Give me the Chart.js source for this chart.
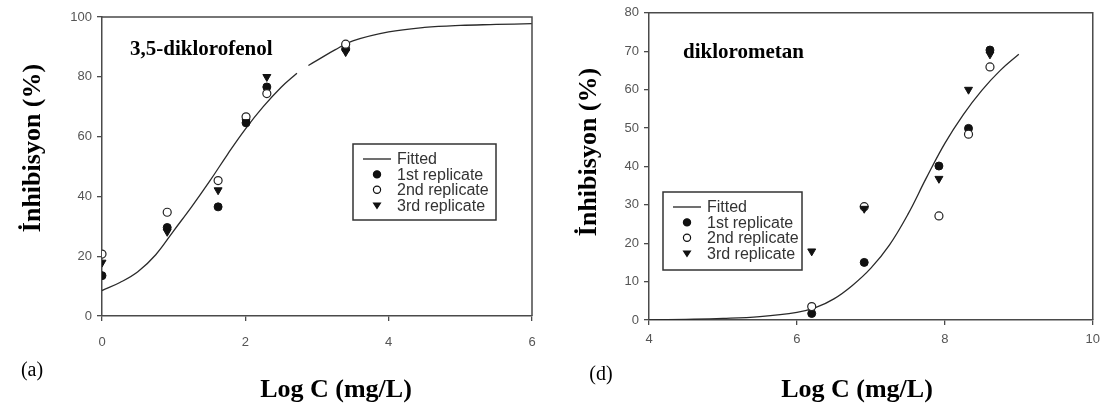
<!DOCTYPE html>
<html>
<head>
<meta charset="utf-8">
<script src="https://cdn.jsdelivr.net/npm/chart.js@4.4.1/dist/chart.umd.min.js"></script>
<style>
    body { margin: 0; background: #fff; }
    #wrap { position: relative; width: 1107px; height: 406px; overflow: hidden; }
    canvas { position: absolute; top: 0; }
    #chartA { left: 0; }
    #chartD { left: 555px; }
</style>
</head>
<body>
<div id="wrap">
    <canvas id="chartA" width="552" height="406"></canvas>
    <canvas id="chartD" width="552" height="406"></canvas>
</div>
<script>
//----------------------------- Data (a) 3,5-diklorofenol -----------------------------------
const logC_a = [0, 0.91, 1.62, 2.01, 2.30, 3.40];
const rep1_a = [13.5, 29.6, 36.5, 64.6, 76.6, 89.4];
const rep2_a = [20.7, 34.7, 45.3, 66.6, 74.4, 90.9];
const rep3_a = [17.9, 28.2, 42.1, 64.9, 80.0, 88.3];
// fitted curve (null = the small break in the line)
const fitX_a = [0, 0.25, 0.5, 0.75, 1, 1.25, 1.5, 1.75, 2, 2.25, 2.5, 2.72, 2.8, 2.88, 3, 3.25, 3.5, 4, 4.5, 5, 5.5, 6];
const fitY_a = [8.5, 11.2, 14.8, 20.5, 28.5, 36.5, 45, 54, 62.5, 70, 76.5, 81.2, null, 83.8, 85.5, 89, 92, 95, 96.5, 97.2, 97.5, 97.8];
const xTicks_a = [0, 2, 4, 6];
const yTicks_a = [0, 20, 40, 60, 80, 100];

//----------------------------- Data (d) diklorometan -----------------------------------
const logC_d = [6.20, 6.91, 7.92, 8.32, 8.61];
const rep1_d = [1.7, 15.0, 40.1, 49.9, 70.3];
const rep2_d = [3.5, 29.5, 27.1, 48.4, 65.9];
const rep3_d = [17.9, 29.0, 36.8, 60.0, 69.2];
const fitX_d = [4, 4.5, 5, 5.5, 6, 6.25, 6.5, 6.75, 7, 7.25, 7.5, 7.75, 8, 8.25, 8.5, 8.75, 9];
const fitY_d = [0, 0.15, 0.4, 0.9, 2.0, 3.2, 5.5, 9, 13.5, 19.5, 27.5, 37, 46, 53.5, 59.8, 65, 69.2];
const xTicks_d = [4, 6, 8, 10];
const yTicks_d = [0, 10, 20, 30, 40, 50, 60, 70, 80];

const legendLabels = ['Fitted', '1st replicate', '2nd replicate', '3rd replicate'];
const axisColor = '#4a4a4a';
const tickColor = '#555';

//----------------------------- Helpers -----------------------------------
function toPoints(xs, ys) {
    return xs.map((x, i) => ({ x: x, y: ys[i] }));
}

function drawMarker(ctx, kind, x, y, r) {
    ctx.save();
    ctx.lineWidth = 1.2;
    ctx.strokeStyle = '#111';
    ctx.fillStyle = kind === 'open' ? '#fff' : '#111';
    ctx.beginPath();
    if (kind === 'tri') {
        ctx.moveTo(x - r * 0.95, y - r * 0.6);
        ctx.lineTo(x + r * 0.95, y - r * 0.6);
        ctx.lineTo(x, y + r * 0.9);
        ctx.closePath();
    } else {
        ctx.arc(x, y, r, 0, Math.PI * 2);
    }
    ctx.fill();
    ctx.stroke();
    ctx.restore();
}

// frame, texts and legend box of each panel
const panelPlugin = {
    id: 'panel',
    afterDraw(chart, args, opts) {
        const ctx = chart.ctx;
        const a = chart.chartArea;
        ctx.save();
        ctx.strokeStyle = axisColor;
        ctx.lineWidth = 1.5;
        ctx.beginPath();
        ctx.moveTo(a.left, a.top);
        ctx.lineTo(a.right, a.top);
        ctx.lineTo(a.right, a.bottom);
        ctx.stroke();

        ctx.fillStyle = '#000';
        ctx.font = 'bold 21px "Liberation Serif"';
        ctx.textAlign = 'left';
        ctx.textBaseline = 'alphabetic';
        ctx.fillText(opts.name, opts.nameX, opts.nameY);

        ctx.font = '20px "Liberation Serif"';
        ctx.textAlign = 'center';
        ctx.fillText(opts.letter, opts.letterX, opts.letterY);

        ctx.font = 'bold 26px "Liberation Serif"';
        ctx.fillText('Log C (mg/L)', opts.xTitleX, 397);

        ctx.save();
        ctx.translate(opts.yTitleX, opts.yTitleY);
        ctx.rotate(-Math.PI / 2);
        ctx.fillText('İnhibisyon (%)', 0, 0);
        ctx.restore();

        // legend
        const b = opts.legend;
        ctx.strokeStyle = '#333';
        ctx.lineWidth = 1.5;
        ctx.strokeRect(b.x, b.y, b.w, b.h);
        ctx.font = '16px "Liberation Sans"';
        ctx.textAlign = 'left';
        ctx.textBaseline = 'middle';
        legendLabels.forEach((label, i) => {
            const ry = b.y + 15 + i * 15.4;
            if (i === 0) {
                ctx.strokeStyle = '#222';
                ctx.lineWidth = 1.3;
                ctx.beginPath();
                ctx.moveTo(b.x + 10, ry);
                ctx.lineTo(b.x + 38, ry);
                ctx.stroke();
            } else {
                drawMarker(ctx, ['dot', 'open', 'tri'][i - 1], b.x + 24, ry, 3.6);
            }
            ctx.fillStyle = '#333';
            ctx.fillText(label, b.x + 44, ry + 1);
        });
        ctx.restore();
    }
};

function makeConfig(d) {
    return {
        type: 'scatter',
        data: {
            datasets: [
                {
                    label: 'Fitted',
                    data: toPoints(d.fitX, d.fitY),
                    showLine: true,
                    spanGaps: false,
                    borderColor: '#2a2a2a',
                    borderWidth: 1.3,
                    pointRadius: 0,
                    tension: 0.4,
                    order: 4
                },
                {
                    label: '1st replicate',
                    data: toPoints(d.logC, d.rep1),
                    pointStyle: 'circle',
                    pointRadius: 4,
                    backgroundColor: '#111',
                    borderColor: '#111',
                    borderWidth: 1,
                    order: 3
                },
                {
                    label: '2nd replicate',
                    data: toPoints(d.logC, d.rep2),
                    pointStyle: 'circle',
                    pointRadius: 4,
                    backgroundColor: '#fff',
                    borderColor: '#222',
                    borderWidth: 1.2,
                    order: 2
                },
                {
                    label: '3rd replicate',
                    data: toPoints(d.logC, d.rep3),
                    pointStyle: 'triangle',
                    rotation: 180,
                    pointRadius: 4.6,
                    backgroundColor: '#111',
                    borderColor: '#111',
                    borderWidth: 1,
                    order: 1
                }
            ]
        },
        options: {
            responsive: false,
            animation: false,
            layout: { padding: d.padding },
            plugins: {
                legend: { display: false },
                tooltip: { enabled: false },
                panel: d.panel
            },
            scales: {
                x: {
                    type: 'linear',
                    min: d.xTicks[0],
                    max: d.xTicks[d.xTicks.length - 1],
                    afterFit: scale => { scale.height = d.xAxisHeight; },
                    afterBuildTicks: scale => { scale.ticks = d.xTicks.map(v => ({ value: v })); },
                    grid: { drawOnChartArea: false, drawTicks: true, tickLength: 5, color: axisColor, lineWidth: 1.3 },
                    border: { color: axisColor, width: 1.5 },
                    ticks: { color: tickColor, padding: d.xTickPad, font: { family: 'Liberation Sans', size: 13 } }
                },
                y: {
                    type: 'linear',
                    min: d.yTicks[0],
                    max: d.yTicks[d.yTicks.length - 1],
                    afterFit: scale => { scale.width = d.yAxisWidth; },
                    afterBuildTicks: scale => { scale.ticks = d.yTicks.map(v => ({ value: v })); },
                    grid: { drawOnChartArea: false, drawTicks: true, tickLength: 5, color: axisColor, lineWidth: 1.3 },
                    border: { color: axisColor, width: 1.5 },
                    ticks: { color: tickColor, padding: 5, font: { family: 'Liberation Sans', size: 13 } }
                }
            }
        },
        plugins: [panelPlugin]
    };
}

//----------------------------- Charts -----------------------------------
new Chart(document.getElementById('chartA'), makeConfig({
    logC: logC_a, rep1: rep1_a, rep2: rep2_a, rep3: rep3_a,
    fitX: fitX_a, fitY: fitY_a, xTicks: xTicks_a, yTicks: yTicks_a,
    padding: { left: 0, top: 17, right: 20, bottom: 0 },
    yAxisWidth: 102, xAxisHeight: 90, xTickPad: 14,
    panel: {
        name: '3,5-diklorofenol', nameX: 130, nameY: 55,
        letter: '(a)', letterX: 32, letterY: 376,
        xTitleX: 336, yTitleX: 40, yTitleY: 148,
        legend: { x: 353, y: 144, w: 143, h: 76 }
    }
}));

new Chart(document.getElementById('chartD'), makeConfig({
    logC: logC_d, rep1: rep1_d, rep2: rep2_d, rep3: rep3_d,
    fitX: fitX_d, fitY: fitY_d, xTicks: xTicks_d, yTicks: yTicks_d,
    padding: { left: 0, top: 12, right: 11, bottom: 0 },
    yAxisWidth: 94, xAxisHeight: 86, xTickPad: 7,
    panel: {
        name: 'diklorometan', nameX: 128, nameY: 58,
        letter: '(d)', letterX: 46, letterY: 380,
        xTitleX: 302, yTitleX: 41, yTitleY: 152,
        legend: { x: 108, y: 192, w: 139, h: 78 }
    }
}));
</script>
</body>
</html>
